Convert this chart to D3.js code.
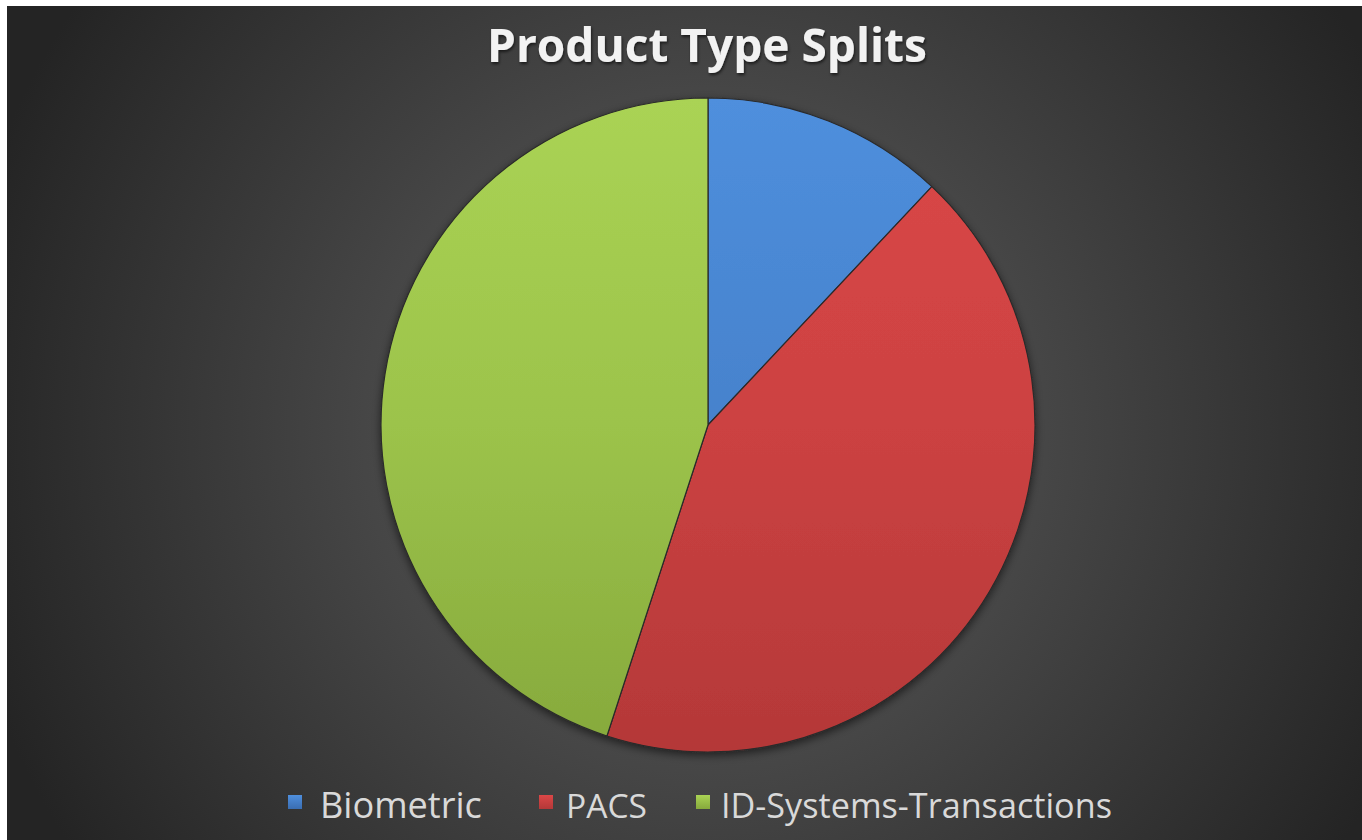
<!DOCTYPE html>
<html>
<head>
<meta charset="utf-8">
<script src="https://cdn.jsdelivr.net/npm/d3@7"></script>
<style>
  html, body { margin: 0; padding: 0; background: #ffffff; }
  svg { display: block; }
</style>
</head>
<body>
<svg id="chart" width="1362" height="840"></svg>
<script>
const title = "Product Type Splits";
const categories = ["Biometric", "PACS", "ID-Systems-Transactions"];
const values = [12, 43, 45];
const colors = ["#4682cc", "#cc4242", "#9cc34b"];
const lightColors = ["#4f8fdd", "#db4747", "#aad354"];
const darkColors = ["#3a6db2", "#b43838", "#86a93c"];

const W = 1362, H = 840;
const svg = d3.select("#chart");
const defs = svg.append("defs");

// background gradient
const bg = defs.append("radialGradient").attr("id", "bg")
  .attr("gradientUnits", "userSpaceOnUse")
  .attr("cx", 705).attr("cy", 430).attr("r", 760);
bg.append("stop").attr("offset", "0%").attr("stop-color", "#5c5c5c");
bg.append("stop").attr("offset", "45%").attr("stop-color", "#464646");
bg.append("stop").attr("offset", "100%").attr("stop-color", "#242424");

svg.append("rect").attr("x", 7).attr("y", 6).attr("width", W - 7).attr("height", H - 6)
  .attr("fill", "url(#bg)");

const cx = 708, cy = 425, R = 327;
colors.forEach((c, i) => {
  const g = defs.append("linearGradient").attr("id", "sg" + i)
    .attr("gradientUnits", "userSpaceOnUse")
    .attr("x1", 0).attr("y1", -R).attr("x2", 0).attr("y2", R);
  g.append("stop").attr("offset", "0%").attr("stop-color", lightColors[i]);
  g.append("stop").attr("offset", "50%").attr("stop-color", c);
  g.append("stop").attr("offset", "100%").attr("stop-color", darkColors[i]);
});

const shadow = defs.append("filter").attr("id", "shadow")
  .attr("x", "-20%").attr("y", "-20%").attr("width", "140%").attr("height", "140%");
shadow.append("feDropShadow").attr("dx", 0).attr("dy", 3).attr("stdDeviation", 4)
  .attr("flood-color", "#000").attr("flood-opacity", 0.55);

const tshadow = defs.append("filter").attr("id", "tshadow")
  .attr("x", "-10%").attr("y", "-30%").attr("width", "120%").attr("height", "160%");
tshadow.append("feDropShadow").attr("dx", 1).attr("dy", 2).attr("stdDeviation", 1.5)
  .attr("flood-color", "#000").attr("flood-opacity", 0.6);

// title
const t = svg.append("text")
  .attr("x", 707).attr("y", 62)
  .attr("text-anchor", "middle")
  .attr("font-family", "'Open Sans', 'DejaVu Sans', sans-serif")
  .attr("font-weight", "bold")
  .attr("font-size", 38)
  .attr("fill", "#f2f2f2")
  .attr("filter", "url(#tshadow)")
  .text(title);
{
  const w = t.node().getComputedTextLength();
  t.attr("font-size", 38 * 440 / w);
}

// pie
const pie = d3.pie().sort(null).value(d => d)(values);
const arc = d3.arc().innerRadius(0).outerRadius(R);
const g = svg.append("g").attr("filter", "url(#shadow)");
g.selectAll("path").data(pie).join("path")
  .attr("d", arc)
  .attr("transform", `translate(${cx},${cy})`)
  .attr("fill", (d, i) => `url(#sg${i})`)
  .attr("stroke", "#2a2a2a")
  .attr("stroke-width", 1.2)
  .attr("stroke-linejoin", "round");

// legend
const squareX = [288, 539, 696];
const textX = [320, 566, 721];
const textEnd = [482, 647, 1112];
const leg = svg.append("g");
categories.forEach((name, i) => {
  const lg = defs.append("linearGradient").attr("id", "lg" + i)
    .attr("x1", 0).attr("y1", 0).attr("x2", 0).attr("y2", 1);
  lg.append("stop").attr("offset", "0%").attr("stop-color", lightColors[i]);
  lg.append("stop").attr("offset", "100%").attr("stop-color", darkColors[i]);
  leg.append("rect").attr("x", squareX[i]).attr("y", 795).attr("width", 14).attr("height", 14)
    .attr("fill", `url(#lg${i})`);
  const tx = leg.append("text")
    .attr("x", textX[i]).attr("y", 818)
    .attr("font-family", "'Open Sans', 'DejaVu Sans', sans-serif")
    .attr("font-size", 32)
    .attr("fill", "#d9d9d9")
    .text(name);
  const w = tx.node().getComputedTextLength();
  tx.attr("font-size", 32 * (textEnd[i] - textX[i]) / w);
});
</script>
</body>
</html>
